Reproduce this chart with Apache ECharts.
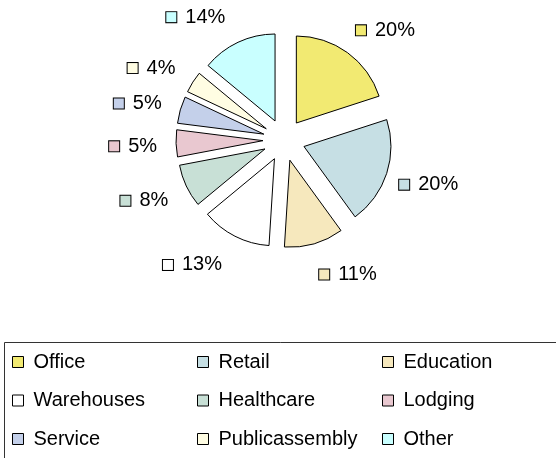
<!DOCTYPE html>
<html>
<head>
<meta charset="utf-8">
<title>Building types</title>
<script src="https://cdn.jsdelivr.net/npm/echarts@6/dist/echarts.min.js"></script>
<style>
  html, body { margin: 0; padding: 0; background: #fff; }
  #chart { width: 556px; height: 458px; }
</style>
</head>
<body>
<div id="chart"></div>
<script>
// share of each building type, in percent
const categories = ['Office', 'Retail', 'Education', 'Warehouses', 'Healthcare', 'Lodging', 'Service', 'Publicassembly', 'Other']
const shares = [20, 20, 11, 13, 8, 5, 5, 4, 14]
const colors = ['#f2ea72', '#c6dfe4', '#f6e8bd', '#ffffff', '#c8e0d6', '#e9c8d0', '#c4d0ea', '#fffde3', '#c9ffff']

// legend columns, read top to bottom
const legendColumns = [
  ['Office', 'Warehouses', 'Service'],
  ['Retail', 'Healthcare', 'Publicassembly'],
  ['Education', 'Lodging', 'Other'],
]

const font = "'Liberation Sans', Arial, sans-serif"

const rich = { t: { fontSize: 20, fontFamily: font, color: '#000', padding: [0, 0, 0, 9] } }
colors.forEach((c, i) => {
  rich['b' + i] = { width: 10, height: 10, backgroundColor: c, borderColor: '#000', borderWidth: 1 }
})

// direction of each slice's middle, used to push labels a bit further up/down
// and a bit closer sideways, the way the original spreads them
const midDirs = []
let cum = 0
shares.forEach(s => {
  const a = (cum + s / 2) / 100 * 2 * Math.PI
  midDirs.push([Math.sin(a), -Math.cos(a)])
  cum += s
})

const chart = echarts.init(document.getElementById('chart'), null, { renderer: 'canvas' })

const options = {
  animation: false,
  backgroundColor: '#fff',
  color: colors,
  legend: legendColumns.map((col, i) => ({
    data: col,
    orient: 'vertical',
    left: [12, 197, 382][i],
    top: 352,
    padding: 0,
    itemGap: 18.5,
    itemWidth: 11,
    itemHeight: 11,
    icon: 'rect',
    selectedMode: false,
    itemStyle: { borderColor: '#000', borderWidth: 1 },
    textStyle: { fontSize: 20, fontFamily: font, color: '#000', padding: [0, 0, 0, 5] },
  })),
  graphic: [{
    type: 'rect',
    shape: { x: 4.5, y: 342.5, width: 600, height: 200 },
    style: { fill: 'none', stroke: '#333', lineWidth: 1 },
    silent: true,
  }],
  series: [{
    type: 'pie',
    center: [284, 140],
    radius: 87,
    startAngle: 90,
    clockwise: true,
    selectedMode: 'multiple',
    selectedOffset: 21,
    avoidLabelOverlap: false,
    emphasis: { disabled: true },
    itemStyle: { borderColor: '#000', borderWidth: 1 },
    label: {
      show: true,
      position: 'outside',
      formatter: p => `{b${p.dataIndex}|}{t|${p.value}%}`,
      rich: rich,
    },
    labelLine: { show: false, length: 21, length2: 0 },
    labelLayout: p => {
      const [dx, dy] = midDirs[p.dataIndex]
      return { dx: -3 - 10 * dx, dy: 2 + 9 * dy }
    },
    data: categories.map((name, i) => ({ name, value: shares[i], selected: true })),
  }],
}

chart.setOption(options)
</script>
</body>
</html>
